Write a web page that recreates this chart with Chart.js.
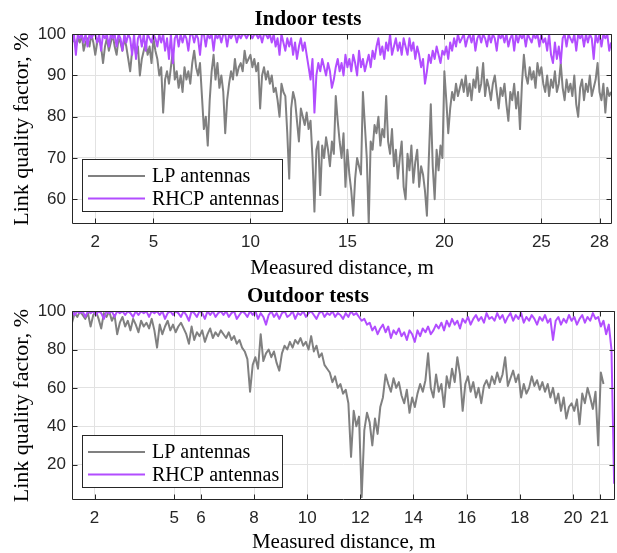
<!DOCTYPE html>
<html>
<head>
<meta charset="utf-8">
<title>Link quality factor</title>
<script src="https://cdn.jsdelivr.net/npm/chart.js@4.4.1/dist/chart.umd.min.js"></script>
<style>
  html, body { margin: 0; padding: 0; background: #fff; }
  #wrap { position: relative; width: 617px; height: 553px; }
  canvas { position: absolute; left: 0; }
  #indoor { top: 0; }
  #outdoor { top: 280px; }
</style>
</head>
<body>
<div id="wrap">
  <canvas id="indoor" width="617" height="280"></canvas>
  <canvas id="outdoor" width="617" height="273"></canvas>
</div>
<script>
// Link quality factor along the measured path, one sample every 0.1 m
const sampleStep = 0.1;

// Indoor run, first sample at 0.8 m
const indoorStart = 0.8;
const indoorLP = [
  98, 99,
  97, 99, 98, 100, 96, 98, 99, 97, 100, 98,
  95, 98, 99, 97, 93, 97, 99, 96, 98, 100,
  97, 95, 99, 98, 96, 99, 97, 94, 91, 96,
  98, 95, 97, 90, 94, 96, 98, 95, 97, 93,
  99, 96, 94, 90, 92, 81, 89, 91, 88, 92,
  96, 89, 91, 87, 90, 86, 92, 89, 91, 88,
  93, 96, 92, 90, 93, 85, 77, 80, 73, 84,
  91, 95, 89, 93, 87, 90, 86, 76, 84, 88,
  91, 89, 94, 90, 92, 93, 91, 96, 93, 94,
  95, 92, 94, 91, 93, 82, 90, 92, 89, 91,
  88, 90, 86, 87, 84, 80, 88, 86, 85, 76,
  65, 82, 86, 84, 79, 74, 82, 80, 78, 81,
  77, 79, 70, 57, 72, 74, 61, 73, 70, 75,
  72, 68, 74, 71, 85, 79, 74, 70, 76, 63,
  72, 66, 62, 56, 65, 70, 68, 66, 86, 78,
  70, 54, 74, 72, 78, 76, 80, 73, 77, 75,
  85, 74, 71, 77, 68, 72, 65, 70, 74, 63,
  60, 71, 67, 73, 64, 69, 72, 63, 68, 66,
  62, 56, 70, 83, 68, 60, 72, 67, 73, 70,
  91, 84, 76, 82, 86, 84, 88, 85, 87, 89,
  86, 90, 85, 88, 84, 89, 87, 92, 86, 88,
  93, 85, 89, 87, 84, 88, 90, 86, 82, 87,
  85, 88, 83, 79, 86, 84, 88, 82, 86, 77,
  88, 95, 90, 88, 92, 89, 91, 87, 93, 90,
  92, 88, 86, 90, 85, 89, 87, 91, 86, 88,
  93, 87, 84, 89, 86, 88, 85, 90, 83, 80,
  87, 89, 84, 88, 86, 90, 85, 87, 89, 93,
  86, 84, 88, 81, 87, 85, 86
];
const indoorRHCP = [
  98, 100,
  95, 100, 99, 100, 98, 100, 97, 100, 99, 100,
  100, 98, 100, 96, 100, 99, 100, 97, 100, 99,
  100, 97, 100, 99, 96, 100, 98, 100, 99, 95,
  100, 94, 99, 100, 97, 100, 96, 100, 99, 98,
  100, 99, 97, 100, 98, 100, 96, 99, 94, 100,
  93, 99, 100, 97, 100, 98, 100, 99, 96, 100,
  100, 98, 100, 99, 95, 100, 100, 97, 100, 99,
  100, 96, 100, 99, 100, 98, 100, 100, 97, 100,
  99, 100, 100, 98, 100, 99, 100, 100, 99, 100,
  100, 99, 100, 100, 99, 100, 98, 100, 100, 99,
  100, 98, 100, 97, 99, 95, 100, 98, 96, 99,
  97, 99, 95, 98, 94, 97, 99, 96, 98, 95,
  92, 89, 94, 81, 90, 93, 91, 94, 92, 90,
  93, 91, 87, 89, 92, 94, 91, 93, 90, 95,
  92, 94, 91, 95, 93, 90, 96, 92, 94, 91,
  93, 95, 92, 96, 94, 97, 99, 95, 97, 94,
  98, 96, 100, 95, 97, 99, 96, 98, 95, 99,
  97, 95, 99, 96, 98, 94, 97, 95, 92, 94,
  88, 91, 95, 93, 96, 94, 97, 95, 93, 96,
  95, 97, 94, 98, 96, 99, 97, 100, 98, 99,
  100, 97, 99, 100, 98, 100, 96, 99, 100, 98,
  100, 99, 97, 100, 98, 100, 99, 96, 100, 99,
  100, 98, 100, 97, 99, 100, 96, 100, 98, 100,
  99, 100, 97, 100, 99, 98, 100, 99, 100, 97,
  100, 98, 99, 96, 100, 95, 93, 98, 94, 97,
  93, 99, 100, 97, 100, 99, 98, 100, 96, 100,
  99, 100, 97, 100, 98, 100, 99, 94, 100, 98,
  100, 97, 100, 99, 100, 96, 98
];
const indoorXTicks = [2, 5, 10, 15, 20, 25, 28];
const indoorYTicks = [60, 70, 80, 90, 100];

// Outdoor run, first sample at 1.15 m
const outdoorStart = 1.15;
const outdoorLP = [
  94, 99, 97, 100, 98, 96, 99, 92,
  98, 100, 96, 91, 99, 97, 100, 95, 98, 88,
  94, 97, 92, 95, 90, 96, 93, 89, 95, 92,
  94, 91, 96, 90, 81, 93, 88, 92, 95, 90,
  93, 89, 92, 94, 91, 88, 83, 92, 85, 89,
  87, 90, 84, 88, 91, 86, 89, 87, 90, 88,
  86, 89, 85, 87, 83, 85, 81, 79, 75, 58,
  72, 76, 70, 88, 74, 78, 80, 76, 79, 73,
  69, 78, 82, 80, 84, 81, 85, 83, 86, 82,
  84, 80, 87, 79, 82, 76, 78, 72, 70, 68,
  63, 66, 60, 62, 57, 59, 52, 24, 48, 40,
  45, 3, 38, 47, 42, 30, 44, 36, 50, 55,
  67, 62, 58, 65, 60, 63, 56, 52, 59, 47,
  55, 50, 57, 62, 58, 64, 78, 60, 55, 67,
  58, 62, 50, 66, 60, 70, 63, 76, 67, 48,
  62, 66, 58, 63, 55, 60, 52, 61, 64, 60,
  66, 62, 68, 63, 67, 76, 61, 65, 69, 63,
  67, 55, 62, 57, 60, 66, 61, 64, 59, 63,
  58, 62, 55, 60, 52, 57, 48, 55, 44, 50,
  52, 48, 54, 41, 57, 52, 60, 55, 49, 58,
  30, 68, 62
];
const outdoorRHCP = [
  100, 98, 100, 99, 100, 97, 100, 99,
  100, 98, 100, 99, 96, 100, 99, 100, 97, 100,
  99, 100, 98, 100, 99, 97, 100, 98, 100, 99,
  100, 97, 100, 99, 100, 98, 100, 96, 99, 100,
  98, 100, 99, 97, 100, 98, 95, 100, 99, 97,
  100, 99, 96, 100, 98, 100, 97, 99, 100, 98,
  100, 97, 99, 100, 96, 98, 100, 99, 97, 100,
  98, 100, 96, 99, 97, 93, 98, 100, 97, 99,
  96, 99, 100, 97, 98, 100, 96, 99, 98, 100,
  97, 99, 100, 98, 96, 99, 100, 97, 99, 98,
  100, 97, 99, 98, 96, 99, 97, 100, 98, 99,
  97, 95, 96, 93, 94, 90, 92, 88, 91, 93,
  89, 92, 86, 90, 88, 91, 87, 89, 85, 90,
  88, 84, 90, 87, 91, 89, 92, 88, 90, 93,
  91, 94, 90, 95, 92, 96, 93, 95, 91, 96,
  94, 97, 93, 96, 98, 95, 97, 94, 99, 96,
  97, 95, 99, 96, 98, 94, 97, 99, 95, 98,
  96, 99, 94, 97, 95, 98, 96, 93, 97, 95,
  98, 94, 96, 85, 95, 97, 93, 96, 94, 98,
  95, 97, 93, 96, 98, 94, 97, 95, 99, 96,
  97, 92, 95, 88, 93, 80, 10
];
const outdoorXTicks = [2, 5, 6, 8, 10, 12, 14, 16, 18, 20, 21];
const outdoorYTicks = [20, 40, 60, 80, 100];

const seriesLabels = ['LP antennas', 'RHCP antennas'];
const seriesColors = ['#808080', '#b24dff'];

const AXIS_COLOR = '#262626';
const GRID_COLOR = '#e2e2e2';
const SERIF = '"Liberation Serif", "Times New Roman", serif';
const SANS = '"Liberation Sans", Arial, sans-serif';

function toPoints(values, start) {
  return values.map((v, i) => ({ x: +(start + i * sampleStep).toFixed(2), y: v }));
}

// closed axes box with inward ticks on all four sides
const boxFrame = {
  id: 'boxFrame',
  afterDatasetsDraw(chart) {
    const { ctx, chartArea: a, scales } = chart;
    const len = 5;
    const L = Math.round(a.left) + 0.5, R = Math.round(a.right) - 0.5;
    const T = Math.round(a.top) + 0.5, B = Math.round(a.bottom) - 0.5;
    ctx.save();
    ctx.strokeStyle = AXIS_COLOR;
    ctx.lineWidth = 1;
    ctx.beginPath();
    scales.x.ticks.forEach(t => {
      const px = Math.round(scales.x.getPixelForValue(t.value)) + 0.5;
      ctx.moveTo(px, B); ctx.lineTo(px, B - len);
      ctx.moveTo(px, T); ctx.lineTo(px, T + len);
    });
    scales.y.ticks.forEach(t => {
      const py = Math.round(scales.y.getPixelForValue(t.value)) + 0.5;
      ctx.moveTo(L, py); ctx.lineTo(L + len, py);
      ctx.moveTo(R, py); ctx.lineTo(R - len, py);
    });
    ctx.rect(L, T, R - L, B - T);
    ctx.stroke();
    ctx.restore();
  }
};

// boxed legend in the lower left corner of the plot
const boxLegend = {
  id: 'boxLegend',
  afterDraw(chart) {
    const { ctx, chartArea: a } = chart;
    const w = 200, h = 52;
    const x = Math.round(a.left) + 10, y = Math.round(a.bottom) - 13 - h;
    ctx.save();
    ctx.fillStyle = '#fff';
    ctx.fillRect(x, y, w, h);
    ctx.strokeStyle = AXIS_COLOR;
    ctx.lineWidth = 1;
    ctx.strokeRect(x + 0.5, y + 0.5, w, h);
    ctx.font = '20px ' + SERIF;
    ctx.textBaseline = 'middle';
    chart.data.datasets.forEach((ds, i) => {
      const ry = y + 17 + i * 22.5;
      ctx.strokeStyle = ds.borderColor;
      ctx.lineWidth = 2;
      ctx.beginPath();
      ctx.moveTo(x + 6, ry);
      ctx.lineTo(x + 63, ry);
      ctx.stroke();
      ctx.fillStyle = '#000';
      ctx.fillText(ds.label, x + 70, ry + 1);
    });
    ctx.restore();
  }
};

function buildChart(id, cfg) {
  return new Chart(document.getElementById(id), {
    type: 'line',
    data: {
      datasets: [
        { label: seriesLabels[0], data: toPoints(cfg.lp, cfg.start), borderColor: seriesColors[0], order: 1 },
        { label: seriesLabels[1], data: toPoints(cfg.rhcp, cfg.start), borderColor: seriesColors[1], order: 0 }
      ]
    },
    options: {
      responsive: false,
      animation: false,
      devicePixelRatio: 1,
      layout: { padding: { left: 0, right: 1, top: 0, bottom: 0 } },
      elements: {
        point: { radius: 0 },
        line: { borderWidth: 2, tension: 0, borderJoinStyle: 'round', fill: false }
      },
      plugins: {
        legend: { display: false },
        tooltip: { enabled: false },
        title: {
          display: true,
          text: cfg.title,
          color: '#000',
          font: { family: SERIF, size: 21, weight: 'bold', lineHeight: 1.2 },
          padding: cfg.titlePadding
        }
      },
      scales: {
        x: {
          type: 'linear',
          min: cfg.xMin,
          max: cfg.xMax,
          afterBuildTicks: s => { s.ticks = cfg.xTicks.map(v => ({ value: v })); },
          afterFit: s => { s.height = cfg.xAxisHeight; },
          grid: { color: GRID_COLOR, drawTicks: false },
          border: { display: false },
          ticks: {
            color: AXIS_COLOR,
            font: { family: SANS, size: 17 },
            padding: 8,
            maxRotation: 0,
            autoSkip: false,
            callback: v => String(v)
          },
          title: {
            display: true,
            text: 'Measured distance, m',
            color: '#000',
            font: { family: SERIF, size: 21, lineHeight: 1 },
            padding: { top: 0, bottom: cfg.xTitleBottom }
          }
        },
        y: {
          min: cfg.yMin,
          max: 100,
          afterBuildTicks: s => { s.ticks = cfg.yTicks.map(v => ({ value: v })); },
          afterFit: s => { s.width = 72; },
          grid: { color: GRID_COLOR, drawTicks: false },
          border: { display: false },
          ticks: {
            color: AXIS_COLOR,
            font: { family: SANS, size: 17 },
            padding: 6,
            callback: v => String(v)
          },
          title: {
            display: true,
            text: 'Link quality factor, %',
            color: '#000',
            font: { family: SERIF, size: 22, lineHeight: 1 },
            padding: { top: 11, bottom: 0 }
          }
        }
      }
    },
    plugins: [boxFrame, boxLegend]
  });
}

buildChart('indoor', {
  title: 'Indoor tests',
  titlePadding: { top: 7, bottom: 2 },
  lp: indoorLP, rhcp: indoorRHCP, start: indoorStart,
  xMin: 0.8, xMax: 28.65, xTicks: indoorXTicks,
  yMin: 54, yTicks: indoorYTicks,
  xAxisHeight: 56, xTitleBottom: 1.5
});

buildChart('outdoor', {
  title: 'Outdoor tests',
  titlePadding: { top: 4, bottom: 2 },
  lp: outdoorLP, rhcp: outdoorRHCP, start: outdoorStart,
  xMin: 1.15, xMax: 21.6, xTicks: outdoorXTicks,
  yMin: 1.5, yTicks: outdoorYTicks,
  xAxisHeight: 53, xTitleBottom: 0
});
</script>
</body>
</html>
